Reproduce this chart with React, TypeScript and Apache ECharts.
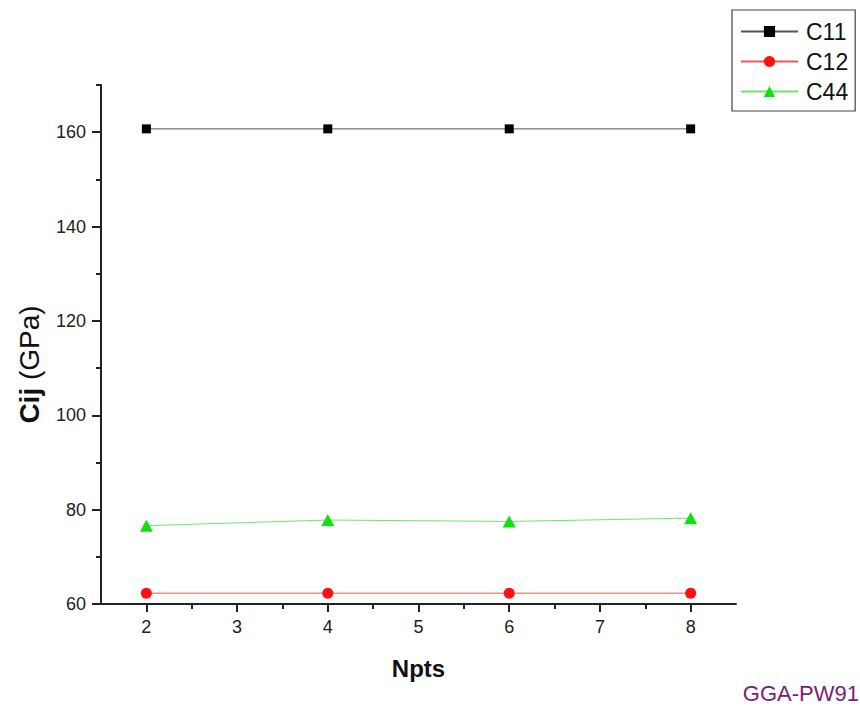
import React, { useEffect, useRef } from "react";
import * as echarts from "echarts";

// k-point count and elastic constants (GPa)
const npts = [2, 4, 6, 8];
const c11 = [160.7, 160.7, 160.7, 160.7];
const c12 = [62.3, 62.3, 62.3, 62.3];
const c44 = [76.6, 77.8, 77.5, 78.2];

const xMajorTicks = [2, 3, 4, 5, 6, 7, 8];
const xMinorTicks = [2.5, 3.5, 4.5, 5.5, 6.5, 7.5];
const yMajorTicks = [60, 80, 100, 120, 140, 160];
const yMinorTicks = [70, 90, 110, 130, 150, 170];

const FONT = "'Liberation Sans', Arial, sans-serif";
const AXIS_COLOR = "#222";

const pairs = (ys: number[]) => npts.map((x, i) => [x, ys[i]]);

export default function App() {
  const ref = useRef<HTMLDivElement>(null);

  useEffect(() => {
    if (!ref.current) return;
    const chart = echarts.init(ref.current, undefined, { renderer: "svg" });

    const baseX = {
      type: "value" as const,
      min: 1.5,
      max: 8.5,
      position: "bottom" as const,
      splitLine: { show: false },
    };
    const baseY = {
      type: "value" as const,
      min: 60,
      max: 170,
      position: "left" as const,
      splitLine: { show: false },
    };

    chart.setOption({
      animation: false,
      backgroundColor: "#fff",
      textStyle: { fontFamily: FONT },
      grid: { left: 101, top: 85, width: 635, height: 519 },
      legend: {
        orient: "vertical",
        left: 732,
        top: 10,
        data: ["C11", "C12", "C44"],
        itemWidth: 57,
        itemHeight: 14,
        itemGap: 7,
        padding: [10, 7, 8, 8],
        borderColor: "#444",
        borderWidth: 1.2,
        textStyle: {
          fontSize: 23,
          color: "#111",
          fontFamily: FONT,
          padding: [0, 0, 0, 3],
        },
      },
      xAxis: [
        {
          ...baseX,
          name: "Npts",
          nameLocation: "middle",
          nameGap: 52,
          nameTextStyle: {
            fontSize: 24,
            fontWeight: "bold",
            color: "#111",
            fontFamily: FONT,
          },
          axisLine: { show: true, onZero: false, lineStyle: { color: AXIS_COLOR, width: 2 } },
          axisTick: {
            show: true,
            inside: false,
            length: 8,
            customValues: xMajorTicks,
            lineStyle: { color: AXIS_COLOR, width: 2 },
          },
          axisLabel: {
            customValues: xMajorTicks,
            margin: 14,
            fontSize: 18,
            color: "#222",
            fontFamily: FONT,
            formatter: (v: number) => `{t|${v}}`,
            rich: { t: { fontSize: 18, color: "#222", fontFamily: FONT } },
          },
        },
        {
          ...baseX,
          axisLine: { show: false },
          axisTick: {
            show: true,
            inside: false,
            length: 5,
            customValues: xMinorTicks,
            lineStyle: { color: AXIS_COLOR, width: 2 },
          },
          axisLabel: { show: false },
        },
      ],
      yAxis: [
        {
          ...baseY,
          name: "{b|Cij} {n|(GPa)}",
          nameLocation: "middle",
          nameRotate: 90,
          nameGap: 58,
          nameTextStyle: {
            fontSize: 28,
            color: "#111",
            fontFamily: FONT,
            padding: [0, 40, 0, 0],
            rich: {
              b: { fontSize: 28, fontWeight: "bold", color: "#111", fontFamily: FONT },
              n: { fontSize: 28, color: "#111", fontFamily: FONT },
            },
          },
          axisLine: { show: true, onZero: false, lineStyle: { color: AXIS_COLOR, width: 2 } },
          axisTick: {
            show: true,
            inside: false,
            length: 9,
            customValues: yMajorTicks,
            lineStyle: { color: AXIS_COLOR, width: 2 },
          },
          axisLabel: {
            customValues: yMajorTicks,
            margin: 15,
            fontSize: 18,
            color: "#222",
            fontFamily: FONT,
            formatter: (v: number) => `{t|${v}}`,
            rich: { t: { fontSize: 18, color: "#222", fontFamily: FONT } },
          },
        },
        {
          ...baseY,
          axisLine: { show: false },
          axisTick: {
            show: true,
            inside: false,
            length: 5,
            customValues: yMinorTicks,
            lineStyle: { color: AXIS_COLOR, width: 2 },
          },
          axisLabel: { show: false },
        },
      ],
      series: [
        {
          name: "C11",
          type: "line",
          data: pairs(c11),
          symbol: "rect",
          symbolSize: 9,
          lineStyle: { color: "#555", width: 1 },
          itemStyle: { color: "#000" },
        },
        {
          name: "C12",
          type: "line",
          data: pairs(c12),
          symbol: "circle",
          symbolSize: 11,
          lineStyle: { color: "#e65a5a", width: 1 },
          itemStyle: { color: "#ff1010" },
        },
        {
          name: "C44",
          type: "line",
          data: pairs(c44),
          symbol: "triangle",
          symbolSize: [13, 12],
          lineStyle: { color: "#6ee66e", width: 1 },
          itemStyle: { color: "#10e010" },
        },
      ],
      graphic: [
        {
          type: "text",
          right: 1,
          top: 682,
          style: {
            text: "GGA-PW91",
            fontSize: 22,
            fill: "#7a1e78",
            fontFamily: FONT,
          },
        },
      ],
    });

    return () => chart.dispose();
  }, []);

  return (
    <div
      ref={ref}
      style={{ position: "fixed", left: 0, top: 0, width: 860, height: 709 }}
    />
  );
}
